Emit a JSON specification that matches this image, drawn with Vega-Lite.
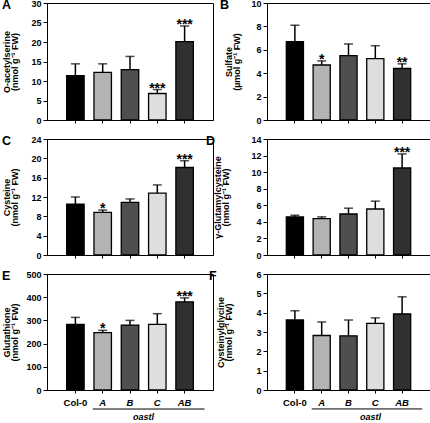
{
  "$schema": "https://vega.github.io/schema/vega-lite/v6.json",
  "padding": {"left": 1, "top": -2, "right": 2, "bottom": 0},
  "background": "white",
  "datasets": {
    "d": [
      {"p": "A", "g": "Col-0", "v": 11.4, "e": 14.4, "s": ""},
      {"p": "A", "g": "A", "v": 12.2, "e": 14.4, "s": ""},
      {"p": "A", "g": "B", "v": 12.9, "e": 16.3, "s": ""},
      {"p": "A", "g": "C", "v": 6.8, "e": 7.8, "s": "***"},
      {"p": "A", "g": "AB", "v": 20.1, "e": 24.1, "s": "***"},
      {"p": "B", "g": "Col-0", "v": 6.7, "e": 8.1, "s": ""},
      {"p": "B", "g": "A", "v": 4.7, "e": 5.05, "s": "*"},
      {"p": "B", "g": "B", "v": 5.5, "e": 6.5, "s": ""},
      {"p": "B", "g": "C", "v": 5.25, "e": 6.35, "s": ""},
      {"p": "B", "g": "AB", "v": 4.4, "e": 4.8, "s": "**"},
      {"p": "C", "g": "Col-0", "v": 10.5, "e": 12.0, "s": ""},
      {"p": "C", "g": "A", "v": 8.8, "e": 9.3, "s": "*"},
      {"p": "C", "g": "B", "v": 10.9, "e": 11.6, "s": ""},
      {"p": "C", "g": "C", "v": 12.8, "e": 14.5, "s": ""},
      {"p": "C", "g": "AB", "v": 18.1, "e": 19.5, "s": "***"},
      {"p": "D", "g": "Col-0", "v": 4.6, "e": 4.8, "s": ""},
      {"p": "D", "g": "A", "v": 4.4, "e": 4.6, "s": ""},
      {"p": "D", "g": "B", "v": 4.95, "e": 5.65, "s": ""},
      {"p": "D", "g": "C", "v": 5.55, "e": 6.5, "s": ""},
      {"p": "D", "g": "AB", "v": 10.5, "e": 12.2, "s": "***"},
      {"p": "E", "g": "Col-0", "v": 283, "e": 313, "s": ""},
      {"p": "E", "g": "A", "v": 247, "e": 257, "s": "*"},
      {"p": "E", "g": "B", "v": 280, "e": 300, "s": ""},
      {"p": "E", "g": "C", "v": 283, "e": 329, "s": ""},
      {"p": "E", "g": "AB", "v": 380, "e": 397, "s": "***"},
      {"p": "F", "g": "Col-0", "v": 3.62, "e": 4.1, "s": ""},
      {"p": "F", "g": "A", "v": 2.82, "e": 3.52, "s": ""},
      {"p": "F", "g": "B", "v": 2.8, "e": 3.62, "s": ""},
      {"p": "F", "g": "C", "v": 3.45, "e": 3.73, "s": ""},
      {"p": "F", "g": "AB", "v": 3.93, "e": 4.82, "s": ""}
    ],
    "lines": [
      {"p": "E", "x1": "A", "x2": "AB", "y": -82},
      {"p": "F", "x1": "A", "x2": "AB", "y": -0.98}
    ]
  },
  "columns": 2,
  "bounds": "flush",
  "align": "each",
  "spacing": {"row": 19, "column": 54},
  "concat": [
    {
      "width": 166, "height": 117,
      "title": {"text": "A"},
      "data": {"name": "d"},
      "transform": [{"filter": "datum.p == 'A'"}],
      "encoding": {
        "x": {"field": "g", "type": "nominal", "scale": {"domain": ["Col-0", "A", "B", "C", "AB"], "paddingInner": 0.36, "paddingOuter": 0.72}, "axis": {"labels": false, "title": null}},
        "y": {"field": "v", "type": "quantitative", "scale": {"domain": [0, 30]}, "axis": {"values": [0, 5, 10, 15, 20, 25, 30], "labelOverlap": false, "title": ["O-acetylserine", "(nmol g⁻¹ FW)"], "titleX": -36}}
      },
      "layer": [
        {"mark": {"type": "bar", "stroke": "black", "strokeWidth": 1.3},
         "encoding": {"fill": {"field": "g", "type": "nominal", "scale": {"domain": ["Col-0", "A", "B", "C", "AB"], "range": ["#000000", "#b3b3b3", "#4f4f4f", "#dedede", "#303030"]}, "legend": null}}},
        {"mark": {"type": "rule", "strokeWidth": 1.5, "color": "black"}, "encoding": {"y2": {"field": "e"}}},
        {"mark": {"type": "tick", "size": 9, "thickness": 1.5, "color": "black"}, "encoding": {"y": {"field": "e", "type": "quantitative", "axis": {"values": [0, 5, 10, 15, 20, 25, 30], "labelOverlap": false, "title": ["O-acetylserine", "(nmol g⁻¹ FW)"], "titleX": -36}}}},
        {"mark": {"type": "text", "fontSize": 14, "fontWeight": "bold", "baseline": "alphabetic", "dy": 3}, "encoding": {"y": {"field": "e", "type": "quantitative", "axis": {"values": [0, 5, 10, 15, 20, 25, 30], "labelOverlap": false, "title": ["O-acetylserine", "(nmol g⁻¹ FW)"], "titleX": -36}}, "text": {"field": "s"}}}
      ]
    },
    {
      "width": 163, "height": 117,
      "title": {"text": "B", "dx": -4},
      "data": {"name": "d"},
      "transform": [{"filter": "datum.p == 'B'"}],
      "encoding": {
        "x": {"field": "g", "type": "nominal", "scale": {"domain": ["Col-0", "A", "B", "C", "AB"], "paddingInner": 0.36, "paddingOuter": 0.72}, "axis": {"labels": false, "title": null}},
        "y": {"field": "v", "type": "quantitative", "scale": {"domain": [0, 10]}, "axis": {"values": [0, 2, 4, 6, 8, 10], "labelOverlap": false, "title": ["Sulfate", "(µmol g⁻¹ FW)"], "titleX": -34}}
      },
      "layer": [
        {"mark": {"type": "bar", "stroke": "black", "strokeWidth": 1.3},
         "encoding": {"fill": {"field": "g", "type": "nominal", "scale": {"domain": ["Col-0", "A", "B", "C", "AB"], "range": ["#000000", "#b3b3b3", "#4f4f4f", "#dedede", "#303030"]}, "legend": null}}},
        {"mark": {"type": "rule", "strokeWidth": 1.5, "color": "black"}, "encoding": {"y2": {"field": "e"}}},
        {"mark": {"type": "tick", "size": 9, "thickness": 1.5, "color": "black"}, "encoding": {"y": {"field": "e", "type": "quantitative", "axis": {"values": [0, 2, 4, 6, 8, 10], "labelOverlap": false, "title": ["Sulfate", "(µmol g⁻¹ FW)"], "titleX": -34}}}},
        {"mark": {"type": "text", "fontSize": 14, "fontWeight": "bold", "baseline": "alphabetic", "dy": 3}, "encoding": {"y": {"field": "e", "type": "quantitative", "axis": {"values": [0, 2, 4, 6, 8, 10], "labelOverlap": false, "title": ["Sulfate", "(µmol g⁻¹ FW)"], "titleX": -34}}, "text": {"field": "s"}}}
      ]
    },
    {
      "width": 166, "height": 116,
      "title": {"text": "C"},
      "data": {"name": "d"},
      "transform": [{"filter": "datum.p == 'C'"}],
      "encoding": {
        "x": {"field": "g", "type": "nominal", "scale": {"domain": ["Col-0", "A", "B", "C", "AB"], "paddingInner": 0.36, "paddingOuter": 0.72}, "axis": {"labels": false, "title": null}},
        "y": {"field": "v", "type": "quantitative", "scale": {"domain": [0, 24]}, "axis": {"values": [0, 4, 8, 12, 16, 20, 24], "labelOverlap": false, "title": ["Cysteine", "(nmol g⁻¹ FW)"], "titleX": -36}}
      },
      "layer": [
        {"mark": {"type": "bar", "stroke": "black", "strokeWidth": 1.3},
         "encoding": {"fill": {"field": "g", "type": "nominal", "scale": {"domain": ["Col-0", "A", "B", "C", "AB"], "range": ["#000000", "#b3b3b3", "#4f4f4f", "#dedede", "#303030"]}, "legend": null}}},
        {"mark": {"type": "rule", "strokeWidth": 1.5, "color": "black"}, "encoding": {"y2": {"field": "e"}}},
        {"mark": {"type": "tick", "size": 9, "thickness": 1.5, "color": "black"}, "encoding": {"y": {"field": "e", "type": "quantitative", "axis": {"values": [0, 4, 8, 12, 16, 20, 24], "labelOverlap": false, "title": ["Cysteine", "(nmol g⁻¹ FW)"], "titleX": -36}}}},
        {"mark": {"type": "text", "fontSize": 14, "fontWeight": "bold", "baseline": "alphabetic", "dy": 3}, "encoding": {"y": {"field": "e", "type": "quantitative", "axis": {"values": [0, 4, 8, 12, 16, 20, 24], "labelOverlap": false, "title": ["Cysteine", "(nmol g⁻¹ FW)"], "titleX": -36}}, "text": {"field": "s"}}}
      ]
    },
    {
      "width": 163, "height": 116,
      "title": {"text": "D", "dx": -7},
      "data": {"name": "d"},
      "transform": [{"filter": "datum.p == 'D'"}],
      "encoding": {
        "x": {"field": "g", "type": "nominal", "scale": {"domain": ["Col-0", "A", "B", "C", "AB"], "paddingInner": 0.36, "paddingOuter": 0.72}, "axis": {"labels": false, "title": null}},
        "y": {"field": "v", "type": "quantitative", "scale": {"domain": [0, 14]}, "axis": {"values": [0, 2, 4, 6, 8, 10, 12, 14], "labelOverlap": false, "title": ["γ-Glutamylcysteine", "(nmol g⁻¹ FW)"], "titleX": -45}}
      },
      "layer": [
        {"mark": {"type": "bar", "stroke": "black", "strokeWidth": 1.3},
         "encoding": {"fill": {"field": "g", "type": "nominal", "scale": {"domain": ["Col-0", "A", "B", "C", "AB"], "range": ["#000000", "#b3b3b3", "#4f4f4f", "#dedede", "#303030"]}, "legend": null}}},
        {"mark": {"type": "rule", "strokeWidth": 1.5, "color": "black"}, "encoding": {"y2": {"field": "e"}}},
        {"mark": {"type": "tick", "size": 9, "thickness": 1.5, "color": "black"}, "encoding": {"y": {"field": "e", "type": "quantitative", "axis": {"values": [0, 2, 4, 6, 8, 10, 12, 14], "labelOverlap": false, "title": ["γ-Glutamylcysteine", "(nmol g⁻¹ FW)"], "titleX": -45}}}},
        {"mark": {"type": "text", "fontSize": 14, "fontWeight": "bold", "baseline": "alphabetic", "dy": 3}, "encoding": {"y": {"field": "e", "type": "quantitative", "axis": {"values": [0, 2, 4, 6, 8, 10, 12, 14], "labelOverlap": false, "title": ["γ-Glutamylcysteine", "(nmol g⁻¹ FW)"], "titleX": -45}}, "text": {"field": "s"}}}
      ]
    },
    {
      "width": 166, "height": 116,
      "title": {"text": "E"},
      "encoding": {
        "x": {"field": "g", "type": "nominal", "scale": {"domain": ["Col-0", "A", "B", "C", "AB"], "paddingInner": 0.36, "paddingOuter": 0.72},
              "axis": {"title": "oastl", "titleFontStyle": "italic", "titleX": 96, "titleY": 29, "titleAlign": "center", "titleBaseline": "alphabetic", "labelPadding": 4, "labelFontSize": 9.5,
                       "labelFontStyle": {"condition": {"test": "datum.value == 'Col-0'", "value": "normal"}, "value": "italic"}}},
        "y": {"field": "v", "type": "quantitative", "scale": {"domain": [0, 500]}, "axis": {"values": [0, 100, 200, 300, 400, 500], "labelOverlap": false, "title": ["Glutathione", "(nmol g⁻¹ FW)"], "titleX": -36}}
      },
      "layer": [
        {"data": {"name": "d"}, "transform": [{"filter": "datum.p == 'E'"}],
         "mark": {"type": "bar", "stroke": "black", "strokeWidth": 1.3},
         "encoding": {"fill": {"field": "g", "type": "nominal", "scale": {"domain": ["Col-0", "A", "B", "C", "AB"], "range": ["#000000", "#b3b3b3", "#4f4f4f", "#dedede", "#303030"]}, "legend": null}}},
        {"data": {"name": "d"}, "transform": [{"filter": "datum.p == 'E'"}],
         "mark": {"type": "rule", "strokeWidth": 1.5, "color": "black"}, "encoding": {"y2": {"field": "e"}}},
        {"data": {"name": "d"}, "transform": [{"filter": "datum.p == 'E'"}],
         "mark": {"type": "tick", "size": 9, "thickness": 1.5, "color": "black"}, "encoding": {"y": {"field": "e", "type": "quantitative", "axis": {"values": [0, 100, 200, 300, 400, 500], "labelOverlap": false, "title": ["Glutathione", "(nmol g⁻¹ FW)"], "titleX": -36}}}},
        {"data": {"name": "d"}, "transform": [{"filter": "datum.p == 'E'"}],
         "mark": {"type": "text", "fontSize": 14, "fontWeight": "bold", "baseline": "alphabetic", "dy": 3}, "encoding": {"y": {"field": "e", "type": "quantitative", "axis": {"values": [0, 100, 200, 300, 400, 500], "labelOverlap": false, "title": ["Glutathione", "(nmol g⁻¹ FW)"], "titleX": -36}}, "text": {"field": "s"}}},
        {"data": {"name": "lines"}, "transform": [{"filter": "datum.p == 'E'"}],
         "mark": {"type": "rule", "strokeWidth": 1, "color": "black", "xOffset": -10, "x2Offset": 20},
         "encoding": {"x": {"field": "x1", "type": "nominal"}, "x2": {"field": "x2"}, "y": {"field": "y", "type": "quantitative", "axis": {"values": [0, 100, 200, 300, 400, 500], "labelOverlap": false, "title": ["Glutathione", "(nmol g⁻¹ FW)"], "titleX": -36}}}}
      ]
    },
    {
      "width": 163, "height": 116,
      "title": {"text": "F", "dx": -7},
      "encoding": {
        "x": {"field": "g", "type": "nominal", "scale": {"domain": ["Col-0", "A", "B", "C", "AB"], "paddingInner": 0.36, "paddingOuter": 0.72},
              "axis": {"title": "oastl", "titleFontStyle": "italic", "titleX": 103, "titleY": 29, "titleAlign": "center", "titleBaseline": "alphabetic", "labelPadding": 4, "labelFontSize": 9.5,
                       "labelFontStyle": {"condition": {"test": "datum.value == 'Col-0'", "value": "normal"}, "value": "italic"}}},
        "y": {"field": "v", "type": "quantitative", "scale": {"domain": [0, 6]}, "axis": {"values": [0, 1, 2, 3, 4, 5, 6], "labelOverlap": false, "title": ["Cysteinylglycine", "(nmol g⁻¹ FW)"], "titleX": -42}}
      },
      "layer": [
        {"data": {"name": "d"}, "transform": [{"filter": "datum.p == 'F'"}],
         "mark": {"type": "bar", "stroke": "black", "strokeWidth": 1.3},
         "encoding": {"fill": {"field": "g", "type": "nominal", "scale": {"domain": ["Col-0", "A", "B", "C", "AB"], "range": ["#000000", "#b3b3b3", "#4f4f4f", "#dedede", "#303030"]}, "legend": null}}},
        {"data": {"name": "d"}, "transform": [{"filter": "datum.p == 'F'"}],
         "mark": {"type": "rule", "strokeWidth": 1.5, "color": "black"}, "encoding": {"y2": {"field": "e"}}},
        {"data": {"name": "d"}, "transform": [{"filter": "datum.p == 'F'"}],
         "mark": {"type": "tick", "size": 9, "thickness": 1.5, "color": "black"}, "encoding": {"y": {"field": "e", "type": "quantitative", "axis": {"values": [0, 1, 2, 3, 4, 5, 6], "labelOverlap": false, "title": ["Cysteinylglycine", "(nmol g⁻¹ FW)"], "titleX": -42}}}},
        {"data": {"name": "lines"}, "transform": [{"filter": "datum.p == 'F'"}],
         "mark": {"type": "rule", "strokeWidth": 1, "color": "black", "xOffset": -10, "x2Offset": 20},
         "encoding": {"x": {"field": "x1", "type": "nominal"}, "x2": {"field": "x2"}, "y": {"field": "y", "type": "quantitative", "axis": {"values": [0, 1, 2, 3, 4, 5, 6], "labelOverlap": false, "title": ["Cysteinylglycine", "(nmol g⁻¹ FW)"], "titleX": -42}}}}
      ]
    }
  ],
  "config": {
    "font": "Liberation Sans",
    "view": {"stroke": "black", "strokeWidth": 1},
    "axis": {"domainColor": "black", "tickColor": "black", "labelColor": "black", "titleColor": "black", "labelFontWeight": "bold", "titleFontWeight": "bold", "labelFontSize": 9, "titleFontSize": 9, "titleLineHeight": 8.5, "grid": false, "domainWidth": 1, "tickWidth": 1, "labelOverlap": false},
    "axisY": {"tickSize": 4, "labelPadding": 2},
    "axisX": {"tickSize": 3, "labelAngle": 0},
    "title": {"anchor": "start", "frame": "bounds", "fontSize": 12.5, "fontWeight": "bold", "color": "black", "offset": 0, "dy": 16}
  }
}
